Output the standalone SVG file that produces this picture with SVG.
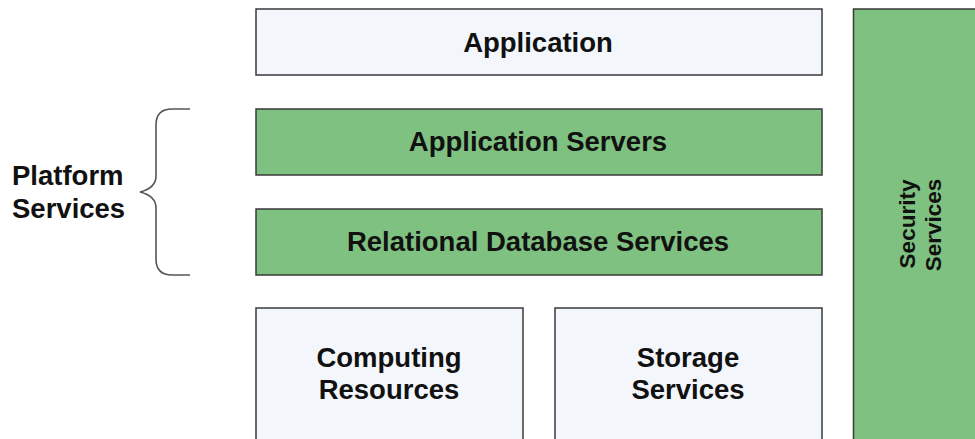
<svg xmlns="http://www.w3.org/2000/svg" width="975" height="439" viewBox="0 0 975 439">
<style>
.box{stroke:#3a3a3a;stroke-width:1.5}
.light{fill:#f3f6fb}
.green{fill:#7fc180}
.t{font-family:"Liberation Sans",Arial,sans-serif;font-weight:bold;font-size:27.5px;fill:#111;text-anchor:middle}
.s{font-size:22.5px}
.brace{fill:none;stroke:#555;stroke-width:1.6}
</style>
<rect width="975" height="439" fill="#fff"/>
<g id="application">
<rect class="box light" x="256" y="9" width="566" height="66"/>
<text class="t" x="538" y="52">Application</text>
</g>
<g id="app-servers">
<rect class="box green" x="256" y="109" width="566" height="66"/>
<text class="t" x="538" y="151">Application Servers</text>
</g>
<g id="rds">
<rect class="box green" x="256" y="209" width="566" height="66"/>
<text class="t" x="538" y="251">Relational Database Services</text>
</g>
<g id="computing">
<rect class="box light" x="256" y="308" width="267" height="140"/>
<text class="t" x="389" y="367">Computing</text>
<text class="t" x="389" y="399">Resources</text>
</g>
<g id="storage">
<rect class="box light" x="555" y="308" width="267" height="140"/>
<text class="t" x="688" y="367">Storage</text>
<text class="t" x="688" y="399">Services</text>
</g>
<g id="security">
<rect class="box green" x="853.5" y="9" width="140" height="440"/>
<text class="t s" transform="translate(915,224) rotate(-90)" x="0" y="0">Security</text>
<text class="t s" transform="translate(941,225) rotate(-90)" x="0" y="0">Services</text>
</g>
<g id="platform-services">
<path class="brace" d="M190 109 H172 Q156 109 156 125 V176 Q156 188 140 192 Q156 196 156 208 V259 Q156 275 172 275 H190"/>
<text class="t" style="text-anchor:start" x="12" y="185">Platform</text>
<text class="t" style="text-anchor:start" x="12" y="218">Services</text>
</g>
</svg>
